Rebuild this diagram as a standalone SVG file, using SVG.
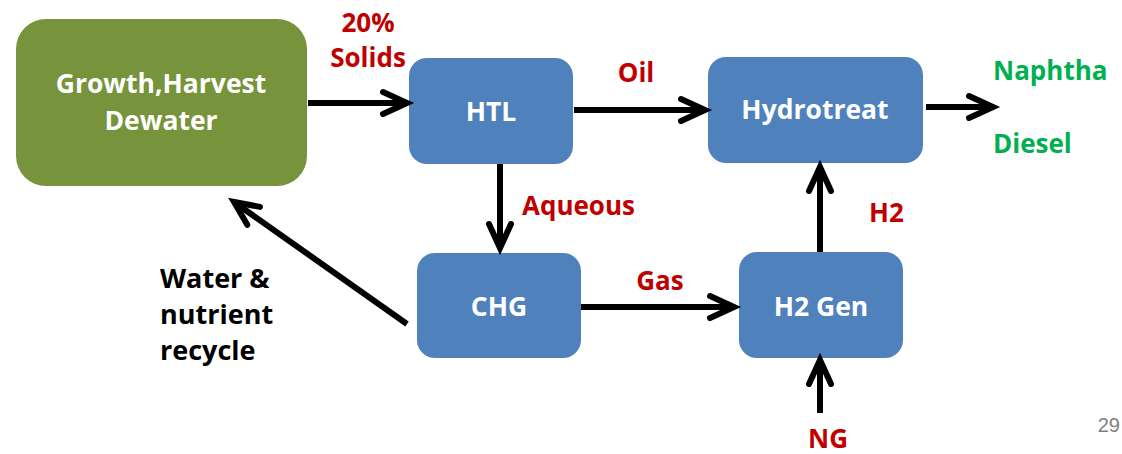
<svg xmlns="http://www.w3.org/2000/svg" width="1122" height="454" viewBox="0 0 1122 454">
<style>
.box{fill:#4F81BD;}
.green{fill:#77933C;}
.nt{font-family:"Open Sans","Liberation Sans",sans-serif;font-weight:bold;font-size:26.5px;fill:#FFFFFF;text-anchor:middle;}
.red{font-family:"Open Sans","Liberation Sans",sans-serif;font-weight:bold;font-size:26px;fill:#C00000;}
.grn{font-family:"Open Sans","Liberation Sans",sans-serif;font-weight:bold;font-size:26px;fill:#00B050;}
.blk{font-family:"Open Sans","Liberation Sans",sans-serif;font-weight:bold;font-size:27px;fill:#000000;}
.conn{stroke:#000;stroke-width:6;fill:none;marker-end:url(#ah);}
</style>
<defs>
<marker id="ah" markerUnits="userSpaceOnUse" markerWidth="40" markerHeight="40" refX="0" refY="0" orient="auto" overflow="visible">
<path d="M-24,-11 L0,0 L-24,11" fill="none" stroke="#000" stroke-width="6" stroke-linecap="round" stroke-linejoin="miter"/>
</marker>
</defs>
<rect width="1122" height="454" fill="#FFFFFF"/>
<g id="growth">
<rect class="green" x="16" y="19" width="291" height="167" rx="30"/>
<text class="nt" x="161" y="93">Growth,Harvest</text>
<text class="nt" x="161" y="130">Dewater</text>
</g>
<g id="htl">
<rect class="box" x="409" y="58" width="164" height="106" rx="18"/>
<text class="nt" x="491" y="121">HTL</text>
</g>
<g id="hydrotreat">
<rect class="box" x="708" y="57" width="215" height="106" rx="18"/>
<text class="nt" x="815" y="119">Hydrotreat</text>
</g>
<g id="chg">
<rect class="box" x="417" y="253" width="164" height="105" rx="18"/>
<text class="nt" x="499" y="316">CHG</text>
</g>
<g id="h2gen">
<rect class="box" x="739" y="252" width="164" height="106" rx="18"/>
<text class="nt" x="821" y="316">H2 Gen</text>
</g>
<g id="connectors">
<line class="conn" x1="308" y1="103" x2="407" y2="103"/>
<line class="conn" x1="574" y1="110" x2="705" y2="110"/>
<line class="conn" x1="926" y1="107" x2="993" y2="107"/>
<line class="conn" x1="500" y1="164" x2="500" y2="248"/>
<line class="conn" x1="407" y1="324" x2="234" y2="202"/>
<line class="conn" x1="581" y1="307" x2="734" y2="307"/>
<line class="conn" x1="820" y1="252" x2="820" y2="167"/>
<line class="conn" x1="820" y1="413" x2="820" y2="360"/>
</g>
<g id="labels">
<text class="red" x="368" y="32" text-anchor="middle">20%</text>
<text class="red" x="368" y="67" text-anchor="middle">Solids</text>
<text class="red" x="636" y="82" text-anchor="middle">Oil</text>
<text class="grn" x="993" y="80">Naphtha</text>
<text class="grn" x="993" y="153">Diesel</text>
<text class="red" x="522" y="215">Aqueous</text>
<text class="red" x="869" y="222">H2</text>
<text class="red" x="660" y="290" text-anchor="middle">Gas</text>
<text class="red" x="828" y="448" text-anchor="middle">NG</text>
<text class="blk" x="160" y="288">Water &amp;</text>
<text class="blk" x="160" y="324">nutrient</text>
<text class="blk" x="160" y="360">recycle</text>
<text x="1120" y="432" text-anchor="end" font-family="Liberation Sans, Arial, sans-serif" font-size="20" fill="#7F7F7F">29</text>
</g>
</svg>
